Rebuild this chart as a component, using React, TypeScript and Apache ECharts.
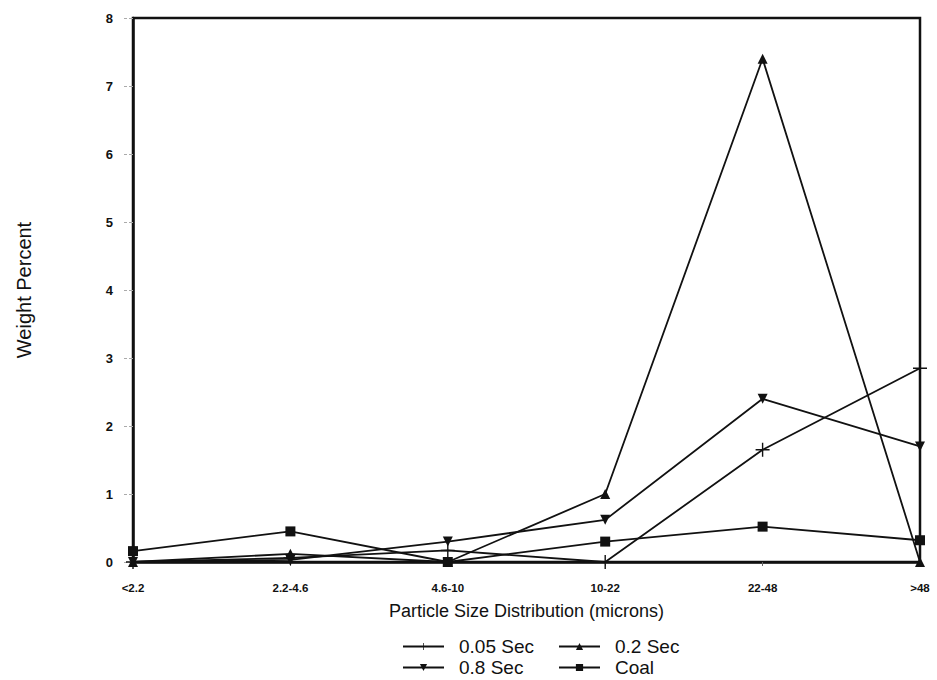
import React, { useEffect, useRef } from "react";
import * as echarts from "echarts";

const categories = ["<2.2", "2.2-4.6", "4.6-10", "10-22", "22-48", ">48"];
const sec005 = [0, 0.06, 0.17, 0, 1.65, 2.85];
const sec02 = [0, 0.12, 0, 1.0, 7.4, 0];
const sec08 = [0, 0.03, 0.3, 0.62, 2.4, 1.7];
const coal = [0.16, 0.45, 0, 0.3, 0.52, 0.32];
const yTicks = [0, 1, 2, 3, 4, 5, 6, 7, 8];

const FONT = "Liberation Sans, Arial, sans-serif";
const PLUS = "path://M-1,-10 H1 V-1 H10 V1 H1 V10 H-1 V1 H-10 V-1 H-1 Z";
const DOWN = "path://M-10,-9 L10,-9 L0,9 Z";
const UP = "path://M-10,9 L10,9 L0,-9 Z";

export default function App() {
  const ref = useRef<HTMLDivElement>(null);
  useEffect(() => {
    const chart = echarts.init(ref.current!, null, { renderer: "svg" });
    const mk = (name: string, data: number[], symbol: string, size: number) => ({
      name,
      type: "line",
      data,
      symbol,
      symbolSize: size,
      showAllSymbol: true,
      clip: false,
      lineStyle: { color: "#111", width: 1.8 },
      itemStyle: { color: "#111" },
      z: 3,
    });
    const legend = (name: string, left: number, top: number) => ({
      data: [name],
      left,
      top,
      padding: 0,
      itemWidth: 41,
      itemHeight: 9,
      textStyle: { fontFamily: FONT, fontSize: 19, color: "#111", padding: [0, 0, 0, 10] },
    });
    chart.setOption({
      animation: false,
      backgroundColor: "#fff",
      grid: { left: 133, right: 17, top: 18, bottom: 118, show: true, borderColor: "#111", borderWidth: 2.5 },
      legend: [
        legend("0.05 Sec", 402, 637),
        legend("0.2 Sec", 558, 637),
        legend("0.8 Sec", 402, 658),
        legend("Coal", 558, 658),
      ],
      xAxis: {
        type: "category",
        data: categories,
        boundaryGap: false,
        name: "Particle Size Distribution (microns)",
        nameLocation: "middle",
        nameGap: 40,
        nameTextStyle: { fontFamily: FONT, fontSize: 18, color: "#111" },
        axisLine: { lineStyle: { color: "#111", width: 2.5 } },
        axisTick: { show: true, length: 4, inside: false, lineStyle: { color: "#666", width: 1 } },
        axisLabel: { fontFamily: FONT, fontSize: 11.5, fontWeight: "bold", color: "#111", margin: 20 },
        splitLine: { show: false },
      },
      yAxis: {
        type: "value",
        min: 0,
        max: 8,
        interval: 1,
        name: "Weight Percent",
        nameLocation: "middle",
        nameGap: 99,
        nameTextStyle: { fontFamily: FONT, fontSize: 20, color: "#111" },
        axisLine: { show: true, lineStyle: { color: "#111", width: 2.5 } },
        axisTick: { show: true, length: 9, lineStyle: { color: "#aaa", width: 1, type: "dashed" } },
        axisLabel: {
          fontFamily: FONT,
          fontSize: 13,
          fontWeight: "bold",
          color: "#111",
          margin: 20,
          formatter: (v: number) => (yTicks.includes(v) ? String(v) : ""),
        },
        splitLine: { show: false },
      },
      series: [
        mk("0.05 Sec", sec005, PLUS, 14),
        mk("0.2 Sec", sec02, UP, 10),
        mk("0.8 Sec", sec08, DOWN, 10),
        mk("Coal", coal, "rect", 10),
      ],
    });
    return () => chart.dispose();
  }, []);
  return <div ref={ref} style={{ width: 937, height: 680, position: "absolute", left: 0, top: 0 }} />;
}
